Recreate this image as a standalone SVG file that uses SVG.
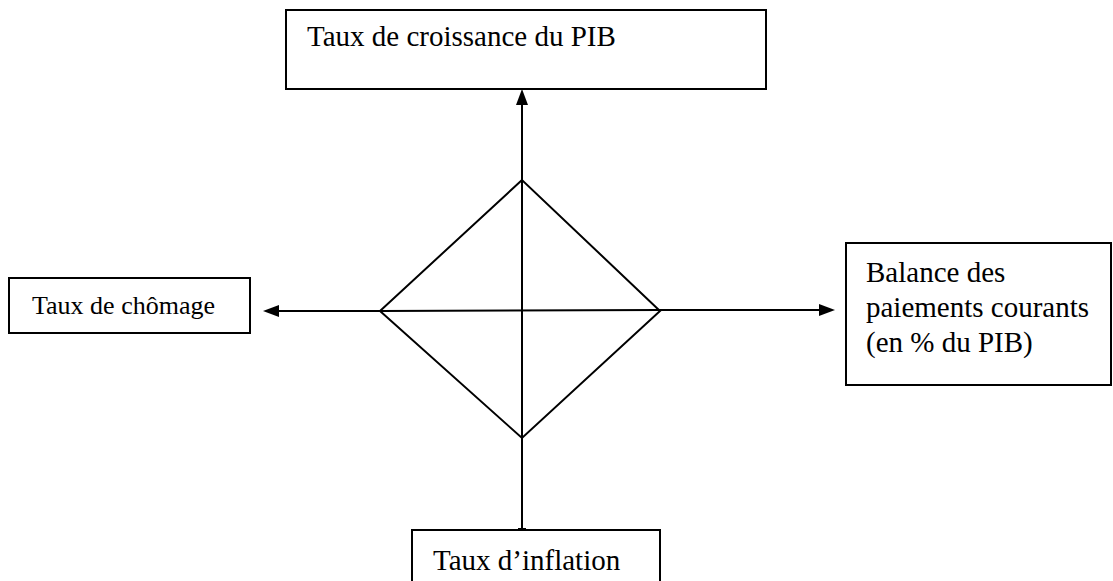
<svg xmlns="http://www.w3.org/2000/svg" width="1113" height="581" viewBox="0 0 1113 581">
<style>
.box{fill:#fff;stroke:#000;stroke-width:2}
.c{stroke:#000;stroke-width:2;fill:none}
</style>
<rect width="1113" height="581" fill="#fff"/>
<g id="node-croissance">
<rect class="box" x="286" y="10" width="480" height="79"/>
<text x="307" y="46" font-family="'Liberation Serif', 'DejaVu Serif', serif" font-size="29" fill="#000">Taux de croissance du PIB</text>
</g>
<g id="node-chomage">
<rect class="box" x="9" y="278" width="241" height="55"/>
<text x="32" y="314" font-family="'Liberation Serif', 'DejaVu Serif', serif" font-size="26" fill="#000">Taux de chômage</text>
</g>
<g id="node-balance">
<rect class="box" x="846" y="243" width="265" height="142"/>
<g font-family="'Liberation Serif', 'DejaVu Serif', serif" font-size="29" fill="#000">
<text x="866" y="282">Balance des</text>
<text x="866" y="317">paiements courants</text>
<text x="866" y="352">(en % du PIB)</text>
</g>
</g>
<g id="node-inflation">
<rect class="box" x="412" y="530" width="248" height="60"/>
<text x="433" y="570" font-family="'Liberation Serif', 'DejaVu Serif', serif" font-size="29" fill="#000">Taux d’inflation</text>
</g>
<g id="connectors">
<path class="c" d="M522,530 L522,104"/>
<path d="M522,89 L516,105 L528,105 Z" fill="#000"/>
<path class="c" d="M518,529 L526,529"/>
<path class="c" d="M380,311 L278,311"/>
<path d="M263,311 L279,305 L279,317 Z" fill="#000"/>
<path class="c" d="M380,311 L660,310 L820,310"/>
<path d="M835,310 L819,304 L819,316 Z" fill="#000"/>
<path class="c" d="M522,180 L380,311 L522,438 L660,311 Z"/>
</g>
</svg>
